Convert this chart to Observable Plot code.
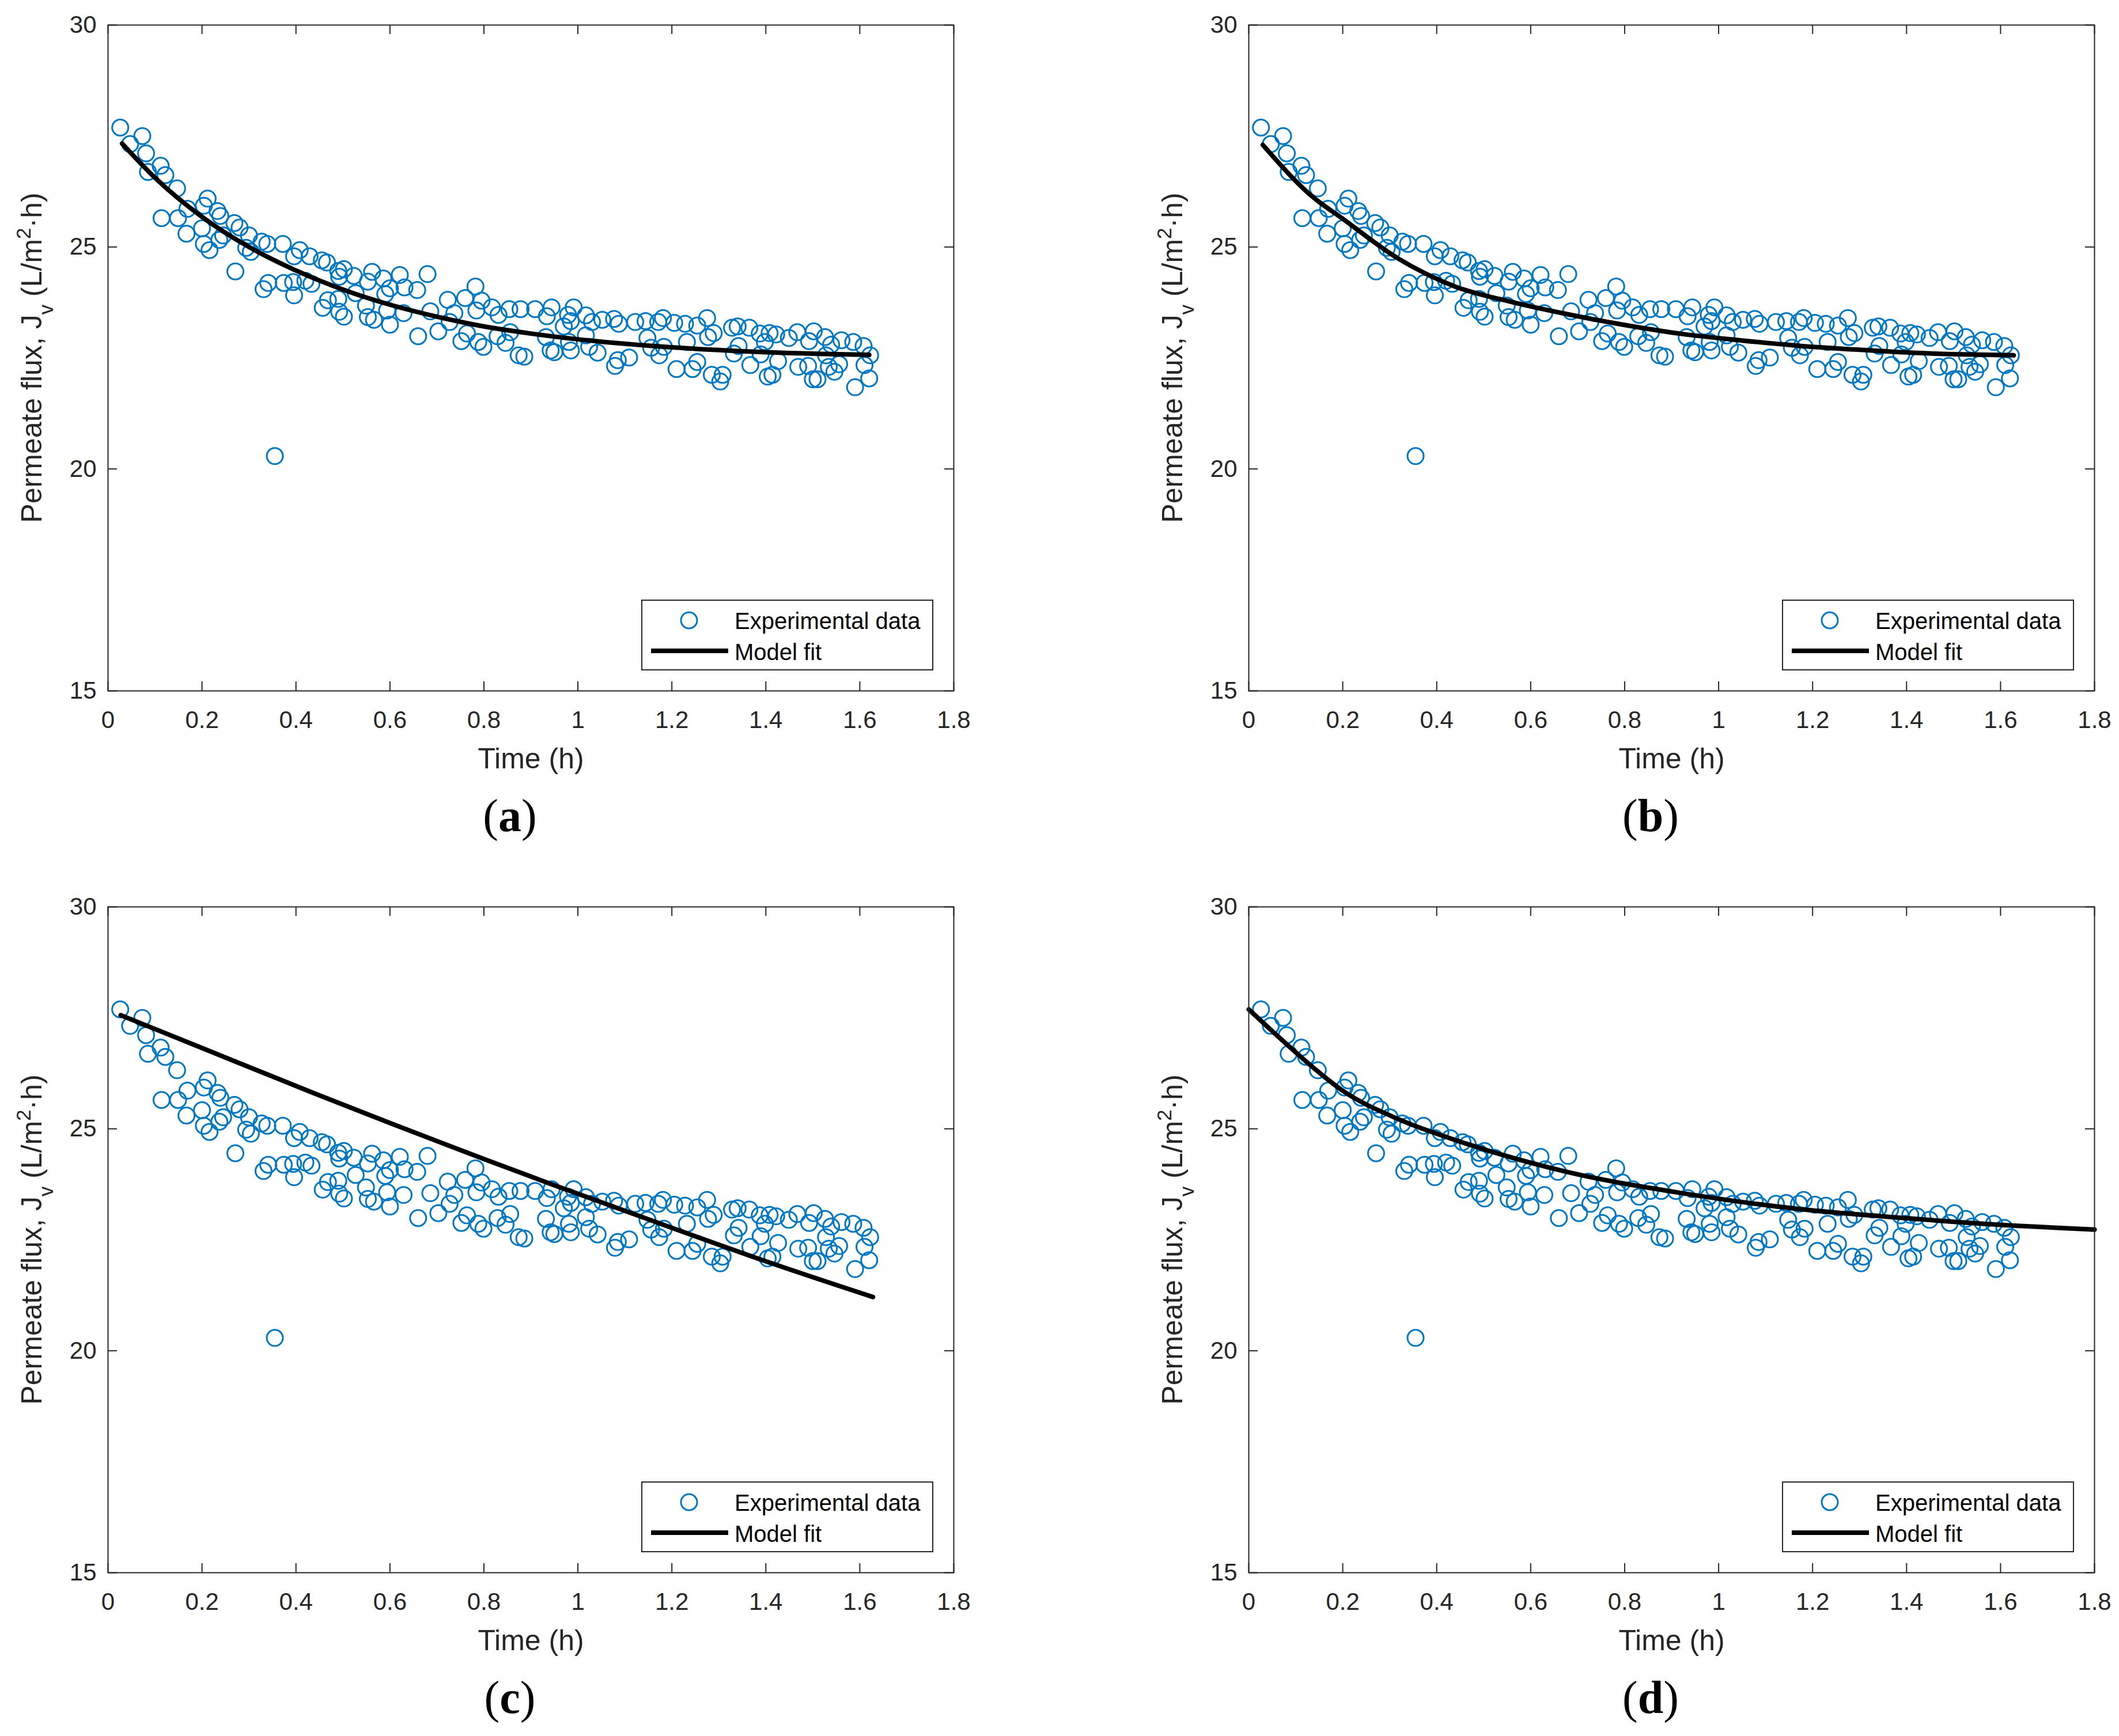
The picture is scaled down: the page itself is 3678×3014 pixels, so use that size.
<!DOCTYPE html>
<html>
<head>
<meta charset="utf-8">
<script src="https://cdn.jsdelivr.net/npm/d3@7"></script>
<script src="https://cdn.jsdelivr.net/npm/@observablehq/plot@0.6"></script>
<style>
  body { margin: 0; background: white; }
  #page { position: relative; width: 3678px; height: 3014px; overflow: hidden; background: white; }
  .panel { position: absolute; }
  .caption {
    position: absolute; width: 200px; text-align: center;
    font-family: "Liberation Serif", "Times New Roman", serif;
    font-size: 80px; line-height: 80px; color: black;
  }
</style>
</head>
<body>
<div id="page"></div>
<script>
// Experimental data (same in all four panels)
const timeH = [
  0.026, 0.047, 0.073, 0.081, 0.085, 0.112, 0.114, 0.122, 0.147, 0.149,
  0.167, 0.169, 0.200, 0.204, 0.204, 0.212, 0.216, 0.233, 0.237, 0.239,
  0.245, 0.269, 0.271, 0.280, 0.294, 0.300, 0.304, 0.327, 0.331, 0.339,
  0.341, 0.355, 0.372, 0.374, 0.394, 0.396, 0.396, 0.408, 0.420, 0.429,
  0.433, 0.455, 0.457, 0.466, 0.468, 0.490, 0.490, 0.492, 0.492, 0.502,
  0.502, 0.523, 0.527, 0.549, 0.553, 0.553, 0.562, 0.566, 0.586, 0.590,
  0.594, 0.600, 0.600, 0.621, 0.629, 0.631, 0.658, 0.660, 0.680, 0.686,
  0.703, 0.723, 0.727, 0.737, 0.752, 0.760, 0.764, 0.782, 0.784, 0.788,
  0.795, 0.799, 0.817, 0.829, 0.831, 0.846, 0.854, 0.856, 0.874, 0.878,
  0.886, 0.909, 0.932, 0.934, 0.942, 0.944, 0.950, 0.970, 0.979, 0.981,
  0.985, 0.985, 0.991, 1.017, 1.017, 1.024, 1.030, 1.042, 1.052, 1.077,
  1.079, 1.085, 1.087, 1.109, 1.122, 1.144, 1.148, 1.156, 1.171, 1.173,
  1.181, 1.183, 1.205, 1.210, 1.228, 1.232, 1.244, 1.254, 1.254, 1.275,
  1.277, 1.285, 1.289, 1.303, 1.308, 1.328, 1.332, 1.340, 1.342, 1.365,
  1.367, 1.387, 1.389, 1.398, 1.404, 1.408, 1.414, 1.422, 1.426, 1.449,
  1.467, 1.469, 1.490, 1.492, 1.500, 1.502, 1.510, 1.526, 1.528, 1.534,
  1.539, 1.546, 1.556, 1.561, 1.586, 1.590, 1.608, 1.610, 1.620, 1.622
];
const fluxExp = [
  27.69, 27.32, 27.50, 27.11, 26.69, 26.83, 25.65, 26.62, 26.32, 25.65,
  25.30, 25.86, 25.42, 25.93, 25.07, 26.09, 24.93, 25.81, 25.16, 25.70,
  25.26, 25.54, 24.45, 25.44, 24.98, 25.26, 24.89, 25.12, 24.05, 25.07,
  24.19, 20.29, 25.07, 24.19, 24.21, 24.79, 23.91, 24.93, 24.24, 24.79,
  24.17, 24.70, 23.63, 24.65, 23.80, 24.46, 23.83, 24.33, 23.54, 24.50,
  23.43, 24.35, 23.96, 23.68, 24.22, 23.42, 24.44, 23.36, 24.29, 23.94,
  23.57, 24.07, 23.25, 24.37, 23.51, 24.09, 24.03, 22.99, 24.39, 23.55,
  23.10, 23.81, 23.31, 23.51, 22.88, 23.85, 23.05, 24.11, 23.57, 22.86,
  23.79, 22.75, 23.64, 22.99, 23.47, 22.84, 23.60, 23.08, 22.56, 23.60,
  22.53, 23.60, 22.97, 23.44, 22.67, 23.64, 22.63, 23.21, 23.47, 22.86,
  23.33, 22.67, 23.64, 23.46, 23.01, 22.75, 23.31, 22.62, 23.36, 23.38,
  22.32, 22.45, 23.27, 22.51, 23.31, 23.33, 22.95, 22.73, 23.31, 22.56,
  23.40, 22.75, 23.29, 22.25, 23.27, 22.86, 22.25, 23.23, 22.41, 23.40,
  22.97, 22.12, 23.06, 21.97, 22.12, 23.18, 22.60, 23.21, 22.77, 23.18,
  22.34, 23.05, 22.58, 22.86, 22.08, 23.06, 22.12, 23.03, 22.43, 22.95,
  23.08, 22.30, 22.32, 22.88, 22.02, 23.10, 22.02, 22.97, 22.56, 22.30,
  22.80, 22.19, 22.36, 22.90, 22.86, 21.84, 22.77, 22.34, 22.04, 22.56
];

// Model fit curves
const fitTimeA = [0.03, 0.1, 0.2, 0.3, 0.4, 0.5, 0.6, 0.7, 0.8, 0.9, 1.0, 1.2, 1.4, 1.62];
const fitFluxA = [27.33, 26.56, 25.68, 25.0, 24.47, 24.04, 23.70, 23.43, 23.21, 23.05, 22.92, 22.74, 22.63, 22.57];
const fitTimeB = [0.03, 0.136, 0.197, 0.318, 0.439, 0.56, 0.681, 0.802, 0.923, 1.044, 1.165, 1.29, 1.408, 1.52, 1.628];
const fitFluxB = [27.30, 26.13, 25.66, 24.74, 24.11, 23.76, 23.48, 23.24, 23.04, 22.90, 22.78, 22.69, 22.62, 22.58, 22.56];
const fitTimeC = [0.027, 0.2, 0.439, 0.6, 0.8, 0.947, 1.2, 1.407, 1.628];
const fitFluxC = [27.56, 26.82, 25.80, 25.13, 24.32, 23.74, 22.77, 21.99, 21.21];
const fitTimeD = [0, 0.075, 0.136, 0.197, 0.318, 0.439, 0.681, 0.923, 1.165, 1.408, 1.625, 1.8];
const fitFluxD = [27.69, 26.96, 26.39, 25.88, 25.22, 24.75, 24.02, 23.55, 23.20, 22.98, 22.82, 22.73];

// Axes
const xTicks = [0, 0.2, 0.4, 0.6, 0.8, 1, 1.2, 1.4, 1.6, 1.8];
const yTicks = [15, 20, 25, 30];
const xLabel = "Time (h)";
const legendLabels = ["Experimental data", "Model fit"];

const blue = "#0077C2";
const ink = "#262626";
const sans = "'Liberation Sans', Arial, Helvetica, sans-serif";

const W = 1698, H = 1360;
const mL = 187, mR = 43, mT = 43, mB = 161;
const frameW = W - mL - mR, frameH = H - mT - mB;
const tickLen = 16;

function drawPanel(fitT, fitY, left, top, letter) {
  const page = document.getElementById("page");
  const holder = document.createElement("div");
  holder.className = "panel";
  holder.style.left = left + "px";
  holder.style.top = top + "px";
  page.appendChild(holder);

  const points = timeH.map((t, i) => ({ t, flux: fluxExp[i] }));
  const fit = fitT.map((t, i) => ({ t, flux: fitY[i] }));

  const svg = Plot.plot({
    width: W,
    height: H,
    marginLeft: mL,
    marginRight: mR,
    marginTop: mT,
    marginBottom: mB,
    style: { fontFamily: sans, fontSize: "42px", color: ink, background: "white", overflow: "visible" },
    x: { domain: [0, 1.8] },
    y: { domain: [15, 30] },
    marks: [
      Plot.dot(points, { x: "t", y: "flux", r: 14, stroke: blue, strokeWidth: 3, fill: "none" }),
      Plot.line(fit, { x: "t", y: "flux", stroke: "black", strokeWidth: 8, curve: "monotone-x" }),
      Plot.frame({ stroke: ink, strokeWidth: 2 }),
      Plot.tickX(xTicks, { x: (d) => d, insetTop: frameH - tickLen, stroke: ink, strokeWidth: 2 }),
      Plot.tickX(xTicks, { x: (d) => d, insetBottom: frameH - tickLen, stroke: ink, strokeWidth: 2 }),
      Plot.tickY(yTicks, { y: (d) => d, insetRight: frameW - tickLen, stroke: ink, strokeWidth: 2 }),
      Plot.tickY(yTicks, { y: (d) => d, insetLeft: frameW - tickLen, stroke: ink, strokeWidth: 2 }),
      Plot.axisX({ ticks: xTicks, tickSize: 0, tickPadding: 35, tickFormat: (d) => String(d), fontSize: 42, label: null }),
      Plot.axisY({ ticks: yTicks, tickSize: 0, tickPadding: 20, tickFormat: (d) => String(d), fontSize: 42, label: null }),
      Plot.text([xLabel], { frameAnchor: "bottom", dy: 118, text: (d) => d, fontSize: 50, lineAnchor: "middle", fill: ink })
    ]
  });
  holder.appendChild(svg);

  const s = d3.select(svg);

  // y label with subscript and superscript
  const yl = s.append("text")
    .attr("transform", `translate(72,${mT + frameH / 2}) rotate(-90)`)
    .attr("text-anchor", "middle")
    .attr("font-family", sans)
    .attr("font-size", 50)
    .attr("fill", ink);
  yl.append("tspan").text("Permeate flux, J");
  yl.append("tspan").attr("baseline-shift", "sub").attr("font-size", "70%").text("v");
  yl.append("tspan").text(" (L/m");
  yl.append("tspan").attr("baseline-shift", "super").attr("font-size", "70%").text("2");
  yl.append("tspan").text("·h)");

  // legend box
  const lg = s.append("g").attr("text-anchor", "start");
  lg.append("rect").attr("x", 1114).attr("y", 1042).attr("width", 505).attr("height", 121)
    .attr("fill", "white").attr("stroke", ink).attr("stroke-width", 2);
  lg.append("circle").attr("cx", 1196).attr("cy", 1077).attr("r", 14)
    .attr("fill", "none").attr("stroke", blue).attr("stroke-width", 3);
  lg.append("line").attr("x1", 1130).attr("x2", 1264).attr("y1", 1130).attr("y2", 1130)
    .attr("stroke", "black").attr("stroke-width", 8);
  lg.append("text").attr("x", 1275).attr("y", 1092).attr("font-family", sans)
    .attr("font-size", 40).attr("fill", "black").attr("text-anchor", "start").text(legendLabels[0]);
  lg.append("text").attr("x", 1275).attr("y", 1146).attr("font-family", sans)
    .attr("font-size", 40).attr("fill", "black").attr("text-anchor", "start").text(legendLabels[1]);

  const cap = document.createElement("div");
  cap.className = "caption";
  cap.style.left = (left + 885 - 100) + "px";
  cap.style.top = (top + 1376) + "px";
  cap.innerHTML = "(<b>" + letter + "</b>)";
  page.appendChild(cap);
}

drawPanel(fitTimeA, fitFluxA, 0, 0, "a");
drawPanel(fitTimeB, fitFluxB, 1980, 0, "b");
drawPanel(fitTimeC, fitFluxC, 0, 1531, "c");
drawPanel(fitTimeD, fitFluxD, 1980, 1531, "d");
</script>
</body>
</html>
